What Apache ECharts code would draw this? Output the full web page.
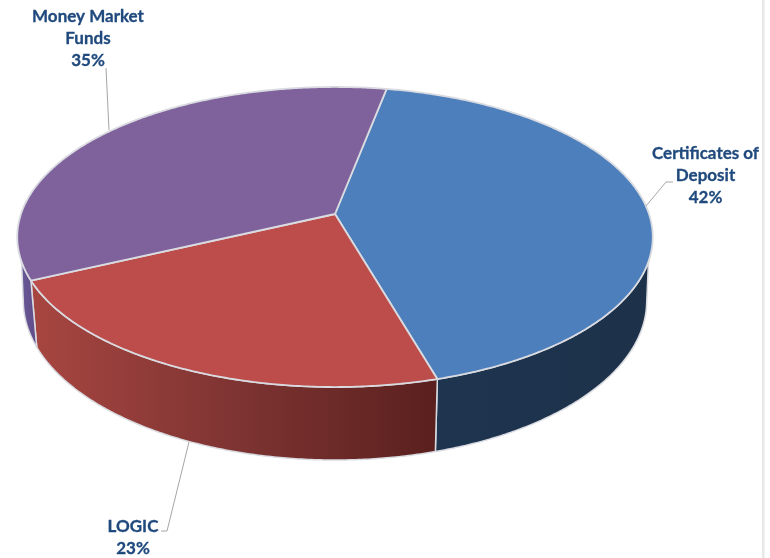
<!DOCTYPE html>
<html>
<head>
<meta charset="utf-8">
<style>html,body{margin:0;padding:0;background:#fff}#c{width:770px;height:558px}</style>
<script src="https://cdn.jsdelivr.net/npm/echarts@6/dist/echarts.min.js"></script>
</head>
<body>
<div id="c"></div>
<script>
const categories = ['Certificates of Deposit', 'LOGIC', 'Money Market Funds'];
const values = [42.49, 22.5, 35.01];
const labelLines = [['Certificates of', 'Deposit'], ['LOGIC'], ['Money Market', 'Funds']];
const faceColors = ['#4C7FBB', '#BD4D4A', '#7F619B'];
const wallFills = [
  [['#1E3550', 0], ['#1D3149', 1]],
  [['#A84641', 0], ['#7E3432', 0.5], ['#5A201E', 1]],
  [['#6A5A98', 0], ['#5E4A86', 1]]
];
const labelCentres = [[705.5, 154], [133, 527], [88, 17]];
const leaderLines = [
  [[646, 206], [666, 182], [673, 182]],
  [[189, 442], [167, 531], [161, 531]],
  [[106, 68], [109, 130]]
];
const labelColor = '#1F497D';
const startAngle = 10.9;
// Where the visible wall meets the outline, on the top rim and on the lower rim
const wallTopRange = [108, 252];
const wallLowRange = [100, 260];
// Perspective projections of the unit disc, top face and bottom rim
const topRim = { cx: 335, d: 314, a: 113.7, b: 214, c: -0.1533 };
const lowRim = { cx: 335, d: 308, a: 112.9, b: 276.6, c: -0.1533 };

function project(deg, m) {
  const t = deg * Math.PI / 180, x = Math.sin(t), y = -Math.cos(t), w = 1 + m.c * y;
  return [m.cx + m.d * x / w, (m.a * y + m.b) / w];
}
function arc(from, to, m) {
  const n = Math.max(2, Math.ceil(Math.abs(to - from) * 2)), pts = [];
  for (let i = 0; i <= n; i++) pts.push(project(from + (to - from) * i / n, m));
  return pts;
}
const total = values.reduce((s, v) => s + v, 0);
function sliceAngles(i) {
  let acc = 0;
  for (let k = 0; k < i; k++) acc += values[k];
  return [startAngle + acc / total * 360, startAngle + (acc + values[i]) / total * 360];
}
const edge = '#D9DBE1';

function renderWall(params) {
  const i = params.dataIndex, [s, e] = sliceAngles(i);
  const ta = Math.max(s, wallTopRange[0]), tb = Math.min(e, wallTopRange[1]);
  const la = Math.max(s, wallLowRange[0]), lb = Math.min(e, wallLowRange[1]);
  if (lb <= la) return null;
  const points = arc(ta, tb, topRim).concat(arc(lb, la, lowRim));
  return {
    type: 'polygon',
    shape: { points },
    style: {
      fill: { type: 'linear', x: 0, y: 0, x2: 1, y2: 0,
        colorStops: wallFills[i].map(c => ({ color: c[0], offset: c[1] })) },
      stroke: edge, lineWidth: 1.5, lineJoin: 'round'
    }
  };
}
function renderFace(params) {
  const i = params.dataIndex, [s, e] = sliceAngles(i);
  const points = [[topRim.cx, topRim.b]].concat(arc(s, e, topRim));
  return {
    type: 'polygon',
    shape: { points },
    style: { fill: faceColors[i], stroke: edge, lineWidth: 1.8, lineJoin: 'round' }
  };
}
function renderLabel(params, api) {
  const i = params.dataIndex;
  const lines = labelLines[i].concat([Math.round(api.value(0)) + '%']);
  return {
    type: 'group',
    children: [{
      type: 'polyline',
      shape: { points: leaderLines[i] },
      style: { fill: null, stroke: '#A6A6A6', lineWidth: 1 }
    }].concat(lines.map((t, k) => ({
      type: 'text',
      style: {
        text: t, x: labelCentres[i][0], y: labelCentres[i][1] + k * 21.7,
        align: 'center', verticalAlign: 'middle',
        font: 'bold 17px Lato, "Open Sans", sans-serif', fill: labelColor,
        stroke: labelColor, lineWidth: 0.3
      }
    })))
  };
}
const chart = echarts.init(document.getElementById('c'), null, { renderer: 'canvas' });
const data = values.map((v, i) => ({ name: categories[i], value: v }));
chart.setOption({
  animation: false,
  backgroundColor: '#fff',
  tooltip: { show: false },
  graphic: [{ type: 'rect', shape: { x: 762, y: 0, width: 2.5, height: 558 }, style: { fill: '#E8E8E8' }, silent: true }],
  series: [
    { type: 'custom', coordinateSystem: 'none', z: 1, silent: true, data, renderItem: renderWall },
    { type: 'custom', coordinateSystem: 'none', z: 2, silent: true, data, renderItem: renderFace },
    { type: 'custom', coordinateSystem: 'none', z: 3, silent: true, data, renderItem: renderLabel }
  ]
});
</script>
</body>
</html>
